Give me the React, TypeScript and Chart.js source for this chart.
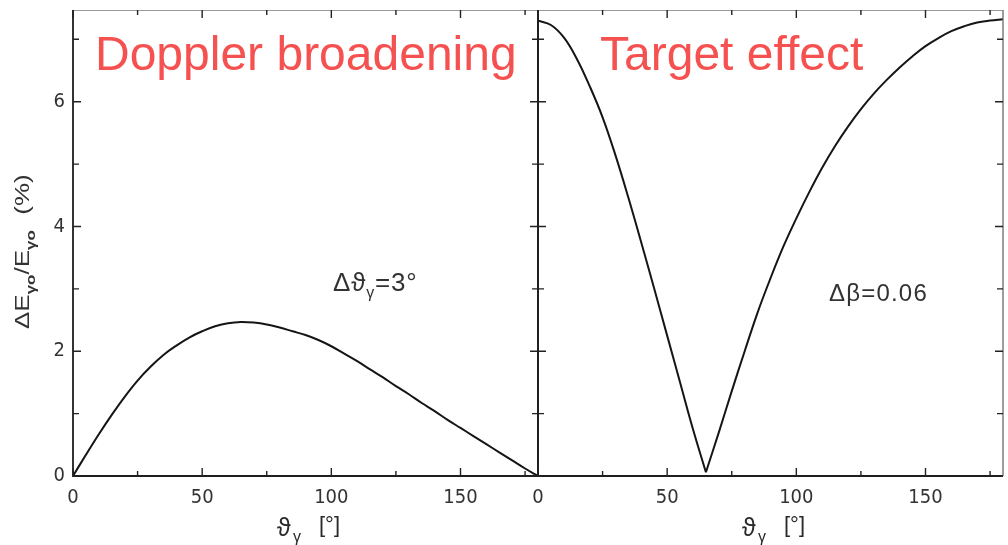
import React, { useEffect, useRef } from "react";
import { Chart, registerables } from "chart.js";

Chart.register(...registerables);

// ---------- data ----------
const dopplerAngles = [0, 5, 10, 15, 20, 25, 30, 35, 40, 45, 50, 55, 60, 65, 70, 75, 80, 85, 90, 95, 100, 105, 110, 115, 120, 125, 130, 135, 140, 145, 150, 155, 160, 165, 170, 175, 180];
const dopplerValues = [0, 0.34, 0.67, 0.98, 1.27, 1.53, 1.75, 1.94, 2.09, 2.22, 2.32, 2.40, 2.45, 2.47, 2.46, 2.43, 2.38, 2.32, 2.26, 2.18, 2.08, 1.96, 1.84, 1.71, 1.58, 1.44, 1.31, 1.17, 1.04, 0.90, 0.77, 0.64, 0.51, 0.38, 0.25, 0.12, 0];

// target effect: falling branch down to the minimum, rising branch after it
const targetFallAngles = [0, 5, 10, 15, 20, 25, 30, 35, 40, 45, 50, 55, 60, 65];
const targetFallValues = [7.30, 7.23, 7.03, 6.69, 6.25, 5.75, 5.14, 4.46, 3.74, 3.00, 2.25, 1.50, 0.75, 0.06];
const targetRiseAngles = [65, 70, 75, 80, 85, 90, 95, 100, 105, 110, 115, 120, 125, 130, 135, 140, 145, 150, 155, 160, 165, 170, 175, 180];
const targetRiseValues = [0.06, 0.70, 1.36, 2.00, 2.62, 3.17, 3.68, 4.13, 4.55, 4.94, 5.29, 5.60, 5.88, 6.13, 6.35, 6.55, 6.73, 6.89, 7.02, 7.13, 7.21, 7.27, 7.30, 7.32];

const xMajorTicks = [0, 50, 100, 150];
const xMinorTicks = [25, 75, 125, 175];
const yMajorTicks = [0, 2, 4, 6];
const yMinorTicks = [1, 3, 5, 7];

const xMin = 0;
const xMax = 180;
const yMin = 0;
const yMax = 7.47;

const panelTitles = ["Doppler broadening", "Target effect"];

// ---------- layout constants ----------
const W = 1008;
const H = 545;
const LEFT = 73;
const MID = 538;
const RIGHT = 1003;
const TOP = 10;
const BOTTOM = 476;

const TICK_FONT = '"Liberation Sans Narrow", "DejaVu Sans Condensed", "Liberation Sans", sans-serif';
const TEXT_FONT = '"Liberation Sans", Arial, sans-serif';

type PanelKind = "left" | "right";

function makeDecorPlugin(kind: PanelKind) {
  return {
    id: "decor-" + kind,
    afterDraw(chart: any) {
      const ctx: CanvasRenderingContext2D = chart.ctx;
      const area = chart.chartArea;
      const xs = chart.scales.x;
      const ys = chart.scales.y;
      ctx.save();

      // frame
      ctx.lineCap = "butt";
      ctx.strokeStyle = "#9a9a9a";
      ctx.lineWidth = 1;
      ctx.beginPath();
      ctx.moveTo(area.left, area.top + 0.5);
      ctx.lineTo(area.right, area.top + 0.5);
      ctx.stroke();

      ctx.strokeStyle = "#1e1e1e";
      ctx.lineWidth = 1.8;
      ctx.beginPath();
      ctx.moveTo(area.left, area.top);
      ctx.lineTo(area.left, area.bottom);
      ctx.lineTo(area.right, area.bottom);
      ctx.stroke();

      ctx.strokeStyle = kind === "left" ? "#1e1e1e" : "#6a6a6a";
      ctx.lineWidth = kind === "left" ? 1.8 : 1.3;
      ctx.beginPath();
      ctx.moveTo(area.right, area.top);
      ctx.lineTo(area.right, area.bottom);
      ctx.stroke();

      // inward ticks
      ctx.strokeStyle = "#222";
      ctx.lineWidth = 1.4;
      const xt = (vals: number[], len: number) => {
        vals.forEach((v) => {
          const p = xs.getPixelForValue(v);
          ctx.beginPath();
          ctx.moveTo(p, area.bottom);
          ctx.lineTo(p, area.bottom - len);
          ctx.moveTo(p, area.top);
          ctx.lineTo(p, area.top + len);
          ctx.stroke();
        });
      };
      const yt = (vals: number[], len: number) => {
        vals.forEach((v) => {
          const p = ys.getPixelForValue(v);
          ctx.beginPath();
          ctx.moveTo(area.left, p);
          ctx.lineTo(area.left + len, p);
          ctx.moveTo(area.right, p);
          ctx.lineTo(area.right - len, p);
          ctx.stroke();
        });
      };
      xt(xMajorTicks, 8);
      xt(xMinorTicks, 5);
      yt(yMajorTicks, 8);
      yt(yMinorTicks, 6);

      // red panel title
      ctx.fillStyle = "#f65151";
      ctx.font = `48px ${TEXT_FONT}`;
      ctx.textBaseline = "alphabetic";
      ctx.textAlign = "left";
      if (kind === "left") ctx.fillText(panelTitles[0], 95, 70);
      else ctx.fillText(panelTitles[1], 600, 70);

      // x axis title  ϑγ [°]
      ctx.fillStyle = "#2a2a2a";
      const ox = area.left;
      ctx.font = `25px ${TEXT_FONT}`;
      ctx.fillText("ϑ", ox + 204, 536);
      ctx.font = `16px ${TEXT_FONT}`;
      ctx.fillText("γ", ox + 220, 542);
      ctx.font = `22px ${TEXT_FONT}`;
      ctx.fillText("[°]", ox + 246, 532);

      // annotation
      ctx.fillStyle = "#333";
      if (kind === "left") {
        (ctx as any).letterSpacing = "0.8px";
        let x = 333;
        ctx.font = `26px ${TEXT_FONT}`;
        ctx.fillText("Δϑ", x, 291);
        x += ctx.measureText("Δϑ").width;
        ctx.font = `16px ${TEXT_FONT}`;
        ctx.fillText("γ", x, 298);
        x += ctx.measureText("γ").width;
        ctx.font = `26px ${TEXT_FONT}`;
        ctx.fillText("=3°", x, 291);
        (ctx as any).letterSpacing = "0px";
      } else {
        (ctx as any).letterSpacing = "1.2px";
        ctx.font = `24px ${TEXT_FONT}`;
        ctx.fillText("Δβ=0.06", 829, 301);
        (ctx as any).letterSpacing = "0px";
      }

      // y axis title (rotated)
      if (kind === "left") {
        ctx.save();
        ctx.translate(29, 329);
        ctx.rotate(-Math.PI / 2);
        ctx.scale(1.3, 1);
        let x = 0;
        const seg = (t: string, font: string, dy: number) => {
          ctx.font = font;
          ctx.fillText(t, x, dy);
          x += ctx.measureText(t).width;
        };
        seg("ΔE", `20px ${TEXT_FONT}`, 0);
        seg("γo", `bold 13px ${TEXT_FONT}`, 6);
        seg("/E", `20px ${TEXT_FONT}`, 0);
        seg("γo", `bold 13px ${TEXT_FONT}`, 6);
        x += 12;
        seg("(%)", `20px ${TEXT_FONT}`, 0);
        ctx.restore();
      }

      ctx.restore();
    },
  };
}

function lineDataset(angles: number[], values: number[]) {
  return {
    data: angles.map((a, i) => ({ x: a, y: values[i] })),
    borderColor: "#151515",
    borderWidth: 2,
    pointRadius: 0,
    fill: false,
    tension: 0.4,
  };
}

function buildConfig(kind: PanelKind): any {
  const datasets =
    kind === "left"
      ? [lineDataset(dopplerAngles, dopplerValues)]
      : [lineDataset(targetFallAngles, targetFallValues), lineDataset(targetRiseAngles, targetRiseValues)];
  return {
    type: "line",
    data: { datasets },
    options: {
      responsive: false,
      animation: false,
      devicePixelRatio: 1,
      events: [],
      layout: {
        padding:
          kind === "left"
            ? { left: 0, right: W - MID, top: TOP, bottom: 0 }
            : { left: MID, right: W - RIGHT, top: TOP, bottom: 0 },
      },
      plugins: {
        legend: { display: false },
        tooltip: { enabled: false },
        title: { display: false },
      },
      scales: {
        x: {
          type: "linear",
          min: xMin,
          max: xMax,
          afterBuildTicks: (s: any) => {
            s.ticks = xMajorTicks.map((v) => ({ value: v }));
          },
          afterFit: (s: any) => {
            s.height = H - BOTTOM;
            s.paddingLeft = 0;
            s.paddingRight = 0;
          },
          grid: { display: false, drawTicks: false },
          border: { display: false },
          ticks: {
            autoSkip: false,
            maxRotation: 0,
            padding: 10,
            color: "#333",
            font: { family: TICK_FONT, size: 20 },
          },
        },
        y: {
          type: "linear",
          min: yMin,
          max: yMax,
          afterBuildTicks: (s: any) => {
            s.ticks = yMajorTicks.map((v) => ({ value: v }));
          },
          afterFit: (s: any) => {
            s.width = kind === "left" ? LEFT : 0;
            s.paddingTop = 0;
            s.paddingBottom = 0;
          },
          grid: { display: false, drawTicks: false },
          border: { display: false },
          ticks: {
            display: kind === "left",
            padding: 8,
            color: "#333",
            font: { family: TICK_FONT, size: 20 },
          },
        },
      },
    },
    plugins: [makeDecorPlugin(kind)],
  };
}

function Panel({ kind }: { kind: PanelKind }) {
  const ref = useRef<HTMLCanvasElement | null>(null);
  useEffect(() => {
    if (!ref.current) return;
    const chart = new Chart(ref.current, buildConfig(kind));
    return () => chart.destroy();
  }, [kind]);
  return (
    <canvas
      ref={ref}
      width={W}
      height={H}
      style={{ position: "absolute", left: 0, top: 0, width: W, height: H }}
    />
  );
}

export default function App() {
  return (
    <div
      style={{
        position: "absolute",
        left: 0,
        top: 0,
        width: W,
        height: H,
        background: "#fff",
        overflow: "hidden",
      }}
    >
      <Panel kind="left" />
      <Panel kind="right" />
    </div>
  );
}
